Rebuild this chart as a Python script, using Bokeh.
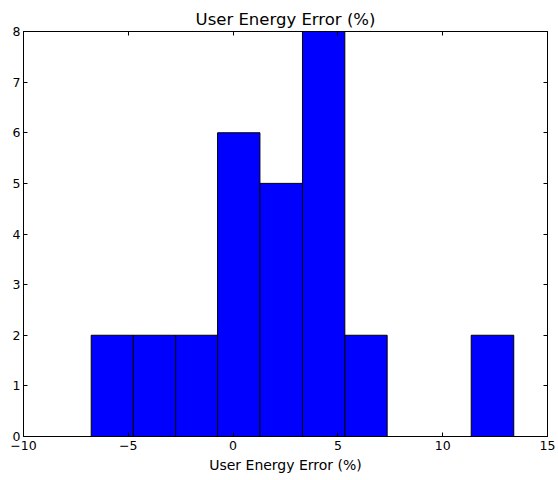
from bokeh.plotting import figure
from bokeh.models import Range1d, LinearAxis, FixedTicker, CustomLabelingPolicy
from bokeh.embed import file_html
from bokeh.resources import INLINE

# Histogram data
bin_edges = [-6.77, -4.76, -2.74, -0.74, 1.28, 3.31, 5.33, 7.35, 9.36, 11.36, 13.39]
counts = [2, 2, 2, 6, 5, 8, 2, 0, 0, 2]
x_ticks = [-10, -5, 0, 5, 10, 15]
x_tick_labels = ["\u221210", "\u22125", "0", "5", "10", "15"]
y_ticks = [0, 1, 2, 3, 4, 5, 6, 7, 8]
title_text = "User Energy Error (%)"
x_label = "User Energy Error (%)"

FONT = "DejaVu Sans"

p = figure(width=558, height=480, output_backend="svg", toolbar_location=None,
           x_range=Range1d(-10, 15), y_range=Range1d(0, 8),
           min_border_left=23, min_border_right=11, min_border_top=31, min_border_bottom=44,
           title=title_text)
p.background_fill_color = "white"
p.border_fill_color = "white"
p.outline_line_color = "black"
p.outline_line_width = 1
p.grid.visible = False

p.title.align = "center"
p.title.text_font = FONT
p.title.text_font_size = "16.5px"
p.title.text_font_style = "normal"
p.title.text_color = "black"
p.title.standoff = 6

p.quad(left=bin_edges[:-1], right=bin_edges[1:], bottom=0, top=counts,
       fill_color="#0000ff", line_color="black", line_width=1)

overrides = {t: l for t, l in zip(x_ticks, x_tick_labels)}

def style(ax, labels=True):
    ax.major_tick_in = 4
    ax.major_tick_out = 0
    ax.minor_tick_in = 0
    ax.minor_tick_out = 0
    ax.axis_line_color = "black"
    ax.major_tick_line_color = "black"
    ax.major_label_text_font = FONT
    ax.major_label_text_font_size = "12.5px"
    ax.major_label_text_color = "black"
    ax.major_label_standoff = 3
    if not labels:
        ax.major_label_policy = CustomLabelingPolicy(
            code="for (const i of indices) { indices.unset(i) } return indices")
        ax.major_label_text_font_size = "0px"
        ax.major_label_standoff = 0

xa = p.xaxis[0]
xa.ticker = FixedTicker(ticks=x_ticks)
xa.major_label_overrides = overrides
style(xa)
xa.major_label_standoff = 4
xa.axis_label = x_label
xa.axis_label_text_font = FONT
xa.axis_label_text_font_size = "14px"
xa.axis_label_text_font_style = "normal"
xa.axis_label_text_color = "black"
xa.axis_label_standoff = 4

ya = p.yaxis[0]
ya.ticker = FixedTicker(ticks=y_ticks)
style(ya)

top = LinearAxis(ticker=FixedTicker(ticks=x_ticks))
style(top, labels=False)
p.add_layout(top, "above")
right = LinearAxis(ticker=FixedTicker(ticks=y_ticks))
style(right, labels=False)
p.add_layout(right, "right")

open("out.html", "w").write(file_html(p, INLINE))
